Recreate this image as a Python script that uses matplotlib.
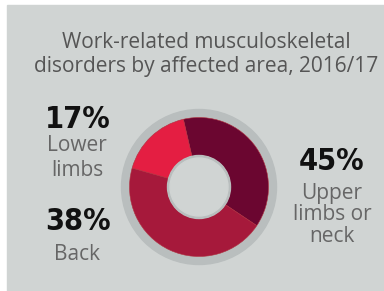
import matplotlib
matplotlib.use("Agg")
import matplotlib.pyplot as plt
from matplotlib.patches import Circle, Rectangle

# data (wedges in drawing order, clockwise from the top)
wedge_shares = [38, 45, 17]
wedge_colors = ['#6b0630', '#a6193b', '#e41e42']

pct_labels = ['17%', '38%', '45%']
name_labels = ['Lower\nlimbs', 'Back', 'Upper\nlimbs or\nneck']
title = 'Work-related musculoskeletal\ndisorders by affected area, 2016/17'

W, H = 384, 291
bg = '#d0d4d3'
ring = '#b9bebe'

fig = plt.figure(figsize=(W / 100, H / 100), dpi=100, facecolor='white')
ax = fig.add_axes([0, 0, 1, 1])

# gray panel
ax.add_patch(Rectangle((7, -10), W, H - 5 + 10, color=bg, zorder=0, clip_on=False))

# donut
cx, cy = 199, H - 187
ax.add_patch(Circle((cx, cy), 77.5, color=ring, zorder=1))
ax.pie(wedge_shares, colors=wedge_colors, startangle=103, counterclock=False,
       center=(cx, cy), radius=69.5,
       wedgeprops=dict(width=38, linewidth=0.4, edgecolor='#b0303f'))
ax.add_patch(Circle((cx, cy), 31.5, color=ring, zorder=5))
ax.add_patch(Circle((cx, cy), 29, color=bg, zorder=6))

ax.set_xlim(0, W)
ax.set_ylim(0, H)
ax.set_aspect('equal')
ax.axis('off')

sans = ['Open Sans', 'DejaVu Sans']
pct_style = dict(ha='center', va='center', fontsize=22, fontweight='bold',
                 fontstretch='condensed', color='#111111', family='DejaVu Sans')

ax.text(206, H - 54.5, title, ha='center', va='center', fontsize=15,
        color='#555555', family=sans, linespacing=1.2)

# left labels
ax.text(78, H - 119, pct_labels[0], **pct_style)
ax.text(77, H - 158, name_labels[0], ha='center', va='center', fontsize=15,
        color='#666666', family=sans, linespacing=1.25)
ax.text(78, H - 222, pct_labels[1], **pct_style)
ax.text(77, H - 254, name_labels[1], ha='center', va='center', fontsize=15,
        color='#666666', family=sans)

# right label
ax.text(332, H - 161, pct_labels[2], **pct_style)
ax.text(332, H - 215, name_labels[2], ha='center', va='center', fontsize=15,
        color='#666666', family=sans, linespacing=1.05)

fig.savefig('out.png', dpi=100, facecolor='white')
